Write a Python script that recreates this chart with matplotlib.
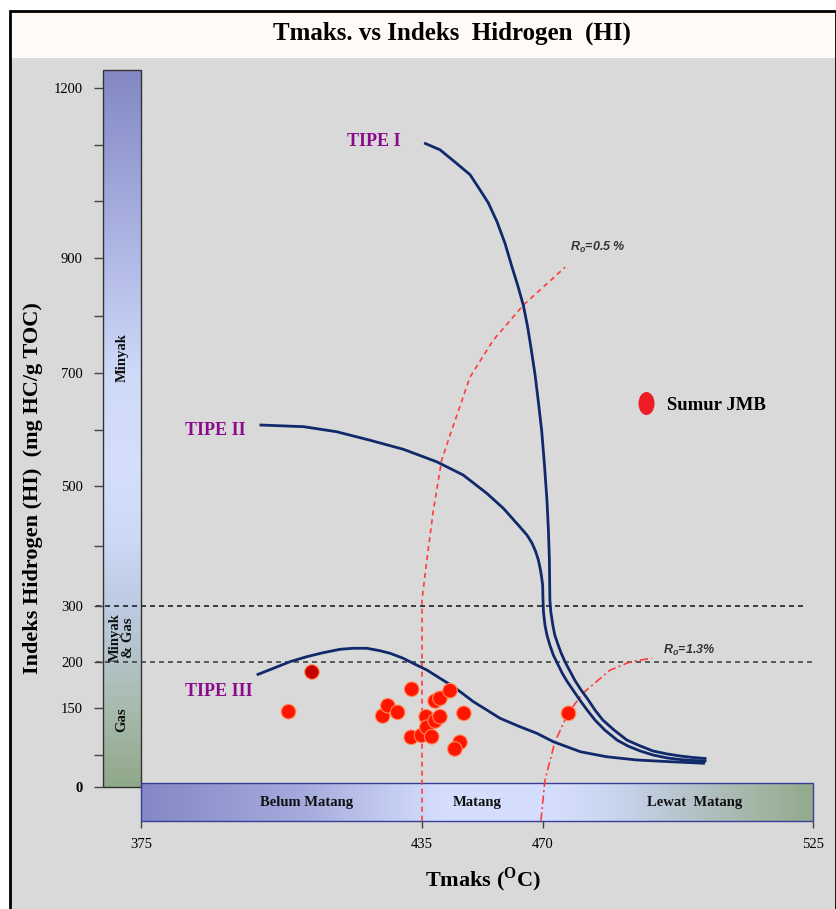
import numpy as np
import matplotlib
matplotlib.use('Agg')
import matplotlib.pyplot as plt
from matplotlib.colors import LinearSegmentedColormap
from matplotlib.patches import Rectangle
from matplotlib.lines import Line2D
from matplotlib.path import Path
from matplotlib.transforms import Affine2D

plt.rcParams['font.family'] = ['Liberation Serif', 'DejaVu Serif']
plt.rcParams['mathtext.fontset'] = 'custom'
plt.rcParams['mathtext.rm'] = 'Liberation Serif:bold'
plt.rcParams['mathtext.bf'] = 'Liberation Serif:bold'
plt.rcParams['mathtext.it'] = 'Liberation Sans:italic:bold'

# axis break points: value -> canvas position (px from bottom / left)
xKnotVal = [375, 435, 470, 525]
xKnotPos = [141, 422, 543, 813]
yKnotVal = [0, 150, 200, 300, 500, 700, 900, 1200]
yKnotPos = [122, 201, 247, 303, 423, 536, 651, 821]

xTicks = [375, 435, 470, 525]
yTicks = [0, 60, 150, 200, 300, 400, 500, 600, 700, 800, 900, 1000, 1100, 1200]
yTickLabels = ['0', '', '150', '200', '300', '', '500', '', '700', '', '900', '', '', '1200']

# Sumur JMB samples
tmaks = [406.5, 411.5, 426.6, 427.7, 429.8, 432.8, 432.7, 434.9, 436.2, 436.4,
         437.8, 438.8, 440.2, 438.8, 440.2, 443.1, 447.1, 446.0, 444.5, 475.2]
hiVal = [143.0, 189.1, 134.8, 152.5, 141.8, 170.4, 94.4, 98.0, 133.5, 113.4,
         95.5, 125.3, 133.5, 157.6, 160.5, 168.8, 139.9, 84.9, 72.2, 139.9]
darkSample = 1

# kerogen type curves
tipe1T = [435.6, 440.2, 445.0, 448.9, 451.8, 454.2, 456.7, 459.0, 461.0, 462.8,
          464.3, 465.5, 466.5, 467.7, 468.6, 469.6, 470.3, 470.8, 471.1, 471.3,
          471.4, 471.6, 472.0, 472.4, 473.1, 473.7, 474.5, 475.5, 476.5, 477.7,
          479.2, 480.6, 482.2, 484.5, 487.1, 489.8, 492.4, 495.3, 497.9, 500.6, 503.3]
tipe1HI = [1103, 1091, 1067, 1047, 1020, 997, 964, 926, 885, 850,
           818, 782, 745, 697, 652, 599, 537, 477, 427, 377,
           310, 289, 266, 248, 230, 216, 200, 190, 180, 170,
           159, 146, 127, 108, 89, 78, 68.4, 62.7, 58.9, 56, 54]
tipe2T = [400.3, 409.7, 416.8, 423.9, 431.0, 439.2, 446.9, 453.7, 458.5, 463.3,
          465.4, 466.8, 467.8, 468.6, 469.1, 469.5, 469.9, 470.0, 470.1, 470.4,
          470.8, 471.4, 472.1, 473.1, 473.9, 474.9, 476.1, 477.5, 479.0, 480.6,
          482.6, 485.1, 487.3, 489.8, 492.4, 495.3, 497.9, 500.6, 503.3]
tipe2HI = [608, 605, 596, 581, 565, 543, 519.5, 488, 463, 432,
           418, 405, 392, 378, 365, 352, 335, 310, 289, 266,
           248, 230, 212.5, 196.7, 188, 179, 169.6, 158.7, 146, 127,
           108, 89, 77.8, 68.4, 60.8, 55.1, 52.2, 50.3, 49.4]
tipe3T = [399.7, 403.2, 406.8, 410.4, 413.9, 417.5, 420.3, 423.2, 426.0, 428.2,
          431.0, 433.1, 436.4, 440.2, 444.1, 449.9, 457.6, 463.3, 468.2, 472.1,
          477.6, 482.9, 489.1, 495.9, 503.0]
tipe3HI = [186, 193, 200.5, 209.5, 216.6, 222.7, 224.5, 224.5, 220.2, 215.5,
           206.6, 198.6, 191.3, 182.3, 173.2, 156.8, 130.4, 114.5, 102, 86,
           67, 57.5, 51.3, 48, 45]

# vitrinite reflectance iso-lines
ro05T = [435.0, 435.0, 436.4, 438.3, 440.7, 443.6, 446.6, 448.9, 455.6, 464.3, 474.5]
ro05HI = [-64, 310, 377, 460, 546, 599, 652, 693, 757, 818, 884]
ro13T = [469.4, 470.4, 472.4, 475.1, 478.1, 483.6, 487.7, 492.2]
ro13HI = [-64, 13, 85, 140, 166, 191, 200, 207]


def piecewise(vals, pos):
    vals = np.asarray(vals, float)
    pos = np.asarray(pos, float)
    s0 = (pos[1] - pos[0]) / (vals[1] - vals[0])
    s1 = (pos[-1] - pos[-2]) / (vals[-1] - vals[-2])

    def fwd(v):
        v = np.asarray(v, float)
        out = np.interp(v, vals, pos)
        out = np.where(v < vals[0], pos[0] + (v - vals[0]) * s0, out)
        return np.where(v > vals[-1], pos[-1] + (v - vals[-1]) * s1, out)

    def inv(p):
        p = np.asarray(p, float)
        out = np.interp(p, pos, vals)
        out = np.where(p < pos[0], vals[0] + (p - pos[0]) / s0, out)
        return np.where(p > pos[-1], vals[-1] + (p - pos[-1]) / s1, out)

    return fwd, inv


W, H = 837, 909
def fx(px):
    return px / W
def fy(py):
    return 1 - py / H

fig = plt.figure(figsize=(W / 100, H / 100), dpi=100)
fig.patch.set_facecolor('white')

# background, title band and frame
fig.add_artist(Rectangle((fx(10), 0), fx(836) - fx(10), fy(58), transform=fig.transFigure,
                         facecolor='#d9d9d9', edgecolor='none', zorder=-3))
fig.add_artist(Rectangle((fx(10), fy(58)), fx(836) - fx(10), fy(11) - fy(58), transform=fig.transFigure,
                         facecolor='#fffaf5', edgecolor='none', zorder=-3))
fig.add_artist(Rectangle((fx(10), fy(915)), fx(836) - fx(10), fy(11) - fy(915), transform=fig.transFigure,
                         facecolor='none', edgecolor='black', lw=2, zorder=5))

ax_left, ax_right, ax_top, ax_bot = 103, 813, 70, 821
ax = fig.add_axes([fx(ax_left), fy(ax_bot), fx(ax_right) - fx(ax_left), fy(ax_top) - fy(ax_bot)])
ax.patch.set_alpha(0)
for s in ax.spines.values():
    s.set_visible(False)

xf, xi = piecewise(xKnotVal, xKnotPos)
yf, yi = piecewise(yKnotVal, yKnotPos)

# colour bars along both axes
bx = (xKnotPos[0] - ax_left) / (ax_right - ax_left)
by = (yKnotPos[0] - (H - ax_bot)) / (ax_bot - ax_top)
hb = (ax_bot - 783) / (ax_bot - ax_top)

vcmap = LinearSegmentedColormap.from_list('hi', [
    (0, '#90a88a'), (0.11, '#a8bbae'), (0.175, '#b3c3c8'), (0.253, '#bccbe2'),
    (0.35, '#cdd9f6'), (0.45, '#d5dffc'), (0.577, '#cfd9f8'), (0.737, '#b1b9e6'),
    (1, '#8388c4')])
hcmap = LinearSegmentedColormap.from_list('tm', [
    (0, '#8488c5'), (0.237, '#a4aadc'), (0.385, '#c6cff3'), (0.445, '#d4defc'),
    (0.625, '#d4defc'), (0.715, '#c7d3ec'), (0.804, '#b7c5cf'), (0.908, '#a5b7a8'),
    (1, '#93aa8c')])

ramp = np.linspace(0, 1, 256)
ax.imshow(ramp[:, None], cmap=vcmap, origin='lower', extent=[0, bx, by, 1],
          transform=ax.transAxes, aspect='auto', interpolation='bilinear', zorder=0.5)
ax.imshow(ramp[None, :], cmap=hcmap, origin='lower', extent=[bx, 1, 0, hb],
          transform=ax.transAxes, aspect='auto', interpolation='bilinear', zorder=0.5)
ax.add_patch(Rectangle((0, by), bx, 1 - by, transform=ax.transAxes, fill=False,
                       ec='#333333', lw=1, clip_on=False, zorder=0.6))
ax.add_patch(Rectangle((bx, 0), 1 - bx, hb, transform=ax.transAxes, fill=False,
                       ec='#3a3c9a', lw=1, clip_on=False, zorder=0.6))

ax.set_xscale('function', functions=(xf, xi))
ax.set_yscale('function', functions=(yf, yi))
ax.set_xlim(float(xi(ax_left)), 525)
ax.set_ylim(float(yi(H - ax_bot)), float(yi(H - ax_top)))

# maturity / hydrocarbon zone labels
bar_font = dict(fontsize=10.5, fontweight='bold', color='#111111', ha='center', va='center')
ax.text(370.9, 726, 'Minyak', rotation=90, **bar_font)
ax.text(370.9, 243, 'Minyak\n& Gas', rotation=90, linespacing=1.0, **bar_font)
ax.text(370.9, 127, 'Gas', rotation=90, **bar_font)
ax.text(410.4, -30, 'Belum Matang', **bar_font)
ax.text(450.9, -30, 'Matang', **bar_font)
ax.text(500.8, -30, 'Lewat  Matang', **bar_font)

# HI boundaries
ax.plot([365.4, 523.8], [300, 300], color='#222222', lw=1.2, ls=(0, (3, 2.4)), clip_on=False, zorder=1)
ax.plot([365.4, 525.5], [200, 200], color='#444444', lw=1.2, ls=(0, (3, 2.4)), clip_on=False, zorder=1)

# Ro lines
ax.plot(ro05T, ro05HI, color='#ff3b3b', lw=1.2, ls=(0, (3, 2.4)), zorder=1.5)
ax.plot(ro13T, ro13HI, color='#ff3b3b', lw=1.2, ls=(0, (5, 2, 1.2, 2)), zorder=1.5)
ro_font = dict(fontsize=9, fontweight='bold', fontstyle='italic', family='Liberation Sans',
               color='#333333', ha='left', va='center')
ax.text(475.5, 918, 'R$_{o}$=0.5 %', **ro_font)
ax.text(494.4, 221, 'R$_{o}$=1.3%', **ro_font)

# kerogen curves
curve_kw = dict(color='#10296b', lw=2, solid_capstyle='butt', solid_joinstyle='round', zorder=3)
ax.plot(tipe1T, tipe1HI, **curve_kw)
ax.plot(tipe2T, tipe2HI, **curve_kw)
ax.plot(tipe3T, tipe3HI, **curve_kw)
tipe_font = dict(fontsize=13, fontweight='bold', color='#8b0a8b', ha='center', va='center')
ax.text(424.7, 1105, 'TIPE I', **tipe_font)
ax.text(390.8, 599, 'TIPE II', **tipe_font)
ax.text(391.7, 168, 'TIPE III', **tipe_font)

# samples
colors = ['#ff1500'] * len(tmaks)
colors[darkSample] = '#c40000'
ax.scatter(tmaks, hiVal, s=110, c=colors, edgecolors='#ff8a5a', linewidths=0.8, zorder=4)

# ticks
ax.set_xticks(xTicks, [str(t) for t in xTicks])
ax.set_yticks(yTicks, yTickLabels)
ax.minorticks_off()
ax.tick_params(axis='x', direction='out', length=5, width=1, color='#444444',
               labelsize=10.5, pad=7)
ax.tick_params(axis='y', direction='out', length=6.5, width=1, color='#444444',
               labelsize=10.5, pad=8)
for lab in ax.get_yticklabels():
    if lab.get_text() == '0':
        lab.set_fontweight('bold')

# legend
ellipse = Path.unit_circle().transformed(Affine2D().scale(0.7, 1.0))
handle = Line2D([], [], marker=ellipse, ls='', color='#ee1c24', markeredgecolor='none', markersize=16.5)
ax.legend([handle], ['Sumur JMB'], loc='center left', bbox_to_anchor=(fx(637), fy(405)),
          bbox_transform=fig.transFigure, frameon=False, borderpad=0, borderaxespad=0,
          handlelength=1.0, handletextpad=0.6, prop=dict(family='Liberation Serif', weight='bold', size=13.5))

# titles
fig.text(fx(452), fy(33), 'Tmaks. vs Indeks  Hidrogen  (HI)', ha='center', va='center',
         fontsize=18, fontweight='bold')
fig.text(fx(33), fy(488), 'Indeks Hidrogen (HI)  (mg HC/g TOC)', rotation=90, ha='center',
         va='center', fontsize=16, fontweight='bold')
fig.text(fx(483), fy(880), r'Tmaks ($^{\mathrm{O}}$C)', ha='center', va='center',
         fontsize=16, fontweight='bold')

fig.savefig('out.png', dpi=100)
